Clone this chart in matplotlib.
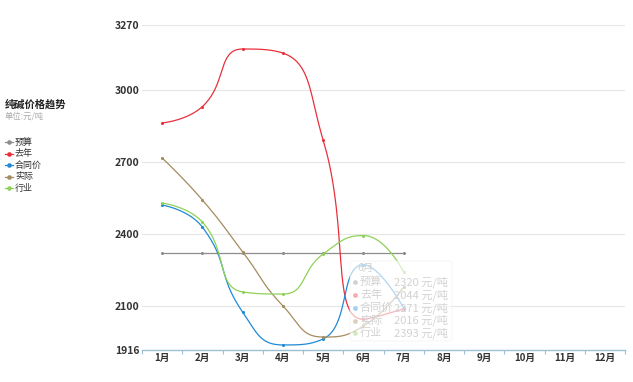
import numpy as np
import matplotlib
matplotlib.use('Agg')
import matplotlib.pyplot as plt
from matplotlib.lines import Line2D
from matplotlib.patches import FancyBboxPatch

plt.rcParams['font.family'] = ['Noto Sans CJK SC', 'DejaVu Sans']

# data
months = ['1月', '2月', '3月', '4月', '5月', '6月', '7月', '8月', '9月', '10月', '11月', '12月']
budget = [2320, 2320, 2320, 2320, 2320, 2320, 2320]
lastYear = [2862, 2930, 3170, 3153, 2791, 2044, 2088]
contract = [2520, 2428, 2074, 1937, 1962, 2271, 2091]
actual = [2716, 2541, 2325, 2100, 1970, 2016, 2178]
industry = [2528, 2449, 2158, 2149, 2316, 2393, 2241]
yTicks = [1916, 2100, 2400, 2700, 3000, 3270]

seriesNames = ['预算', '去年', '合同价', '实际', '行业']
seriesValues = [budget, lastYear, contract, actual, industry]
seriesColors = ['#8c8c8c', '#e8303c', '#1f8ad6', '#a48c5e', '#8fd158']
tipMonth = 5

# pixels per unit, used so the smoothing behaves like the original canvas
SX = 40.27
SY = 0.24


def smoothLine(values, smooth=0.5, steps=40):
  # echarts style bezier smoothing with clamped control points
  pts = [(i*SX, v*SY) for i, v in enumerate(values)]
  n = len(pts)
  xs, ys = [pts[0][0]], [pts[0][1]]
  cp0 = pts[0]
  for i in range(1, n):
    x, y = pts[i]
    px, py = pts[i-1]
    if i == n - 1:
      cp1 = (x, y)
      nextCp0 = (x, y)
    else:
      nx, ny = pts[i+1]
      vx, vy = nx - px, ny - py
      lenPrev = np.hypot(x - px, y - py)
      lenNext = np.hypot(nx - x, ny - y)
      ratio = lenNext/(lenNext + lenPrev)
      ncx = x + vx*smooth*ratio
      ncy = y + vy*smooth*ratio
      ncx = max(min(ncx, max(nx, x)), min(nx, x))
      ncy = max(min(ncy, max(ny, y)), min(ny, y))
      vx, vy = ncx - x, ncy - y
      c1x = x - vx*lenPrev/lenNext
      c1y = y - vy*lenPrev/lenNext
      c1x = max(min(c1x, max(px, x)), min(px, x))
      c1y = max(min(c1y, max(py, y)), min(py, y))
      vx, vy = x - c1x, y - c1y
      ncx = x + vx*lenNext/lenPrev
      ncy = y + vy*lenNext/lenPrev
      cp1 = (c1x, c1y)
      nextCp0 = (ncx, ncy)
    t = np.linspace(0, 1, steps)[1:]
    bx = (1-t)**3*px + 3*(1-t)**2*t*cp0[0] + 3*(1-t)*t**2*cp1[0] + t**3*x
    by = (1-t)**3*py + 3*(1-t)**2*t*cp0[1] + 3*(1-t)*t**2*cp1[1] + t**3*y
    xs.extend(bx)
    ys.extend(by)
    cp0 = nextCp0
  return np.array(xs)/SX, np.array(ys)/SY


fig = plt.figure(figsize=(6.33, 3.82), dpi=100)
ax = fig.add_axes([142/633, 1 - 350/382, 483/633, 325/382])

for name, values, color in zip(seriesNames, seriesValues, seriesColors):
  sx, sy = smoothLine(values)
  ax.plot(sx, sy, color=color, lw=0.9, solid_capstyle='round')
  ax.plot(range(len(values)), values, 'o', color=color, ms=1.2, mec=color)

ax.set_xlim(-0.5, len(months) - 0.5)
ax.set_ylim(yTicks[0], yTicks[-1])
ax.set_yticks(yTicks)
ax.set_yticklabels([str(v) for v in yTicks], fontsize=7.5, fontweight='bold', color='#333333')
ax.set_xticks(range(len(months)))
ax.set_xticklabels(months, fontsize=7, fontweight='bold', color='#333333')
ax.set_xticks(np.arange(-0.5, len(months)), minor=True)
ax.tick_params(axis='x', which='major', length=0, pad=2)
ax.tick_params(axis='x', which='minor', length=3, color='#9cc0d6', width=0.8)
ax.tick_params(axis='y', length=0, pad=2)
for v in yTicks[1:]:
  ax.axhline(v, color='#e6e6e6', lw=0.8, zorder=0)
for side in ['top', 'right', 'left']:
  ax.spines[side].set_visible(False)
ax.spines['bottom'].set_color('#9cc0d6')
ax.spines['bottom'].set_linewidth(1)

# title and legend on the left
fig.text(5/633, 1 - 104/382, '纯碱价格趋势', fontsize=7.4, fontweight='bold', color='#222222', va='center')
fig.text(5/633, 1 - 116/382, '单位:元/吨', fontsize=6, color='#aaaaaa', va='center')
legendY = [142, 153.5, 165, 176.5, 188]
for name, color, ly in zip(seriesNames, seriesColors, legendY):
  yy = 1 - ly/382
  fig.add_artist(Line2D([5/633, 13/633], [yy, yy], color=color, lw=0.9))
  fig.add_artist(Line2D([9/633], [yy], marker='o', ms=2.3, color=color))
  fig.text(15/633, yy, name, fontsize=6.5, color='#333333', va='center')

# faded tooltip for 6月
tipLeft, tipRight = 350, 452
tipTop, tipBottom = 261, 341
fig.add_artist(FancyBboxPatch((tipLeft/633, 1 - tipBottom/382), (tipRight - tipLeft)/633, (tipBottom - tipTop)/382,
                              boxstyle='round,pad=0,rounding_size=0.006', fc='white', ec='#f0f0f0', alpha=0.65, lw=0.6))
tipColor = '#d2d2d2'
fig.text(357/633, 1 - 268/382, months[tipMonth], fontsize=7.5, color=tipColor, va='center')
rowY = [282, 295, 308, 320.5, 333]
for name, values, color, ry in zip(seriesNames, seriesValues, seriesColors, rowY):
  yy = 1 - ry/382
  fig.add_artist(Line2D([355/633], [yy], marker='o', ms=2.5, color=color, alpha=0.3))
  fig.text(360/633, yy, name, fontsize=8, color=tipColor, va='center')
  fig.text(448/633, yy, '%d 元/吨' % values[tipMonth], fontsize=8, color=tipColor, va='center', ha='right')

fig.savefig('out.png', dpi=100)
